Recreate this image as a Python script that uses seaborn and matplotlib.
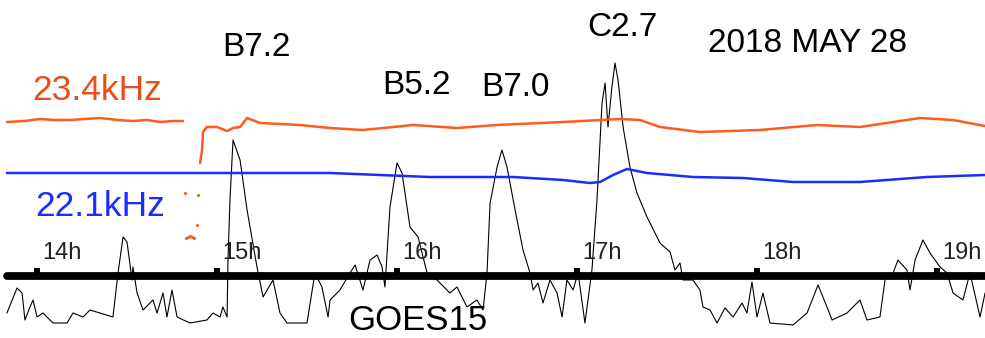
import numpy as np
import pandas as pd
import matplotlib
matplotlib.use("Agg")
import matplotlib.pyplot as plt
import seaborn as sns

# VLF amplitude traces (time in UT hours, level in arbitrary display units)
t_234a = [13.833, 13.930, 14.017, 14.100, 14.183, 14.267, 14.350, 14.450, 14.533, 14.610, 14.683, 14.750, 14.811]
v_234a = [216, 217, 219, 218, 218, 219, 220, 218, 217, 218, 216, 217, 217]
t_234dots = [14.822, 14.828, 14.839, 14.850, 14.861, 14.872, 14.889, 14.894]
v_234dots = [145, 100, 101, 102, 101, 100, 113, 143]
t_234b = [14.906, 14.917, 14.922, 14.944, 15.000, 15.056, 15.089, 15.128, 15.167, 15.239, 15.461,
          15.628, 15.811, 16.089, 16.333, 16.556, 16.922, 17.239, 17.350, 17.461, 17.683, 18.017,
          18.333, 18.572, 18.756, 18.906, 19.089, 19.267]
v_234b = [175, 188, 206, 211, 211, 207, 210, 211, 220, 215, 213, 210, 208, 213, 210, 213, 216, 219,
          218, 211, 206, 208, 213, 211, 216, 220, 218, 212]

t_221 = [13.833, 14.628, 15.628, 16.183, 16.644, 16.922, 17.072, 17.128, 17.200, 17.278, 17.389,
         17.644, 17.922, 18.200, 18.572, 18.944, 19.267]
v_221 = [165, 165, 165, 161, 161, 158, 155, 156, 163, 169, 165, 161, 160, 156, 156, 161, 163]

# GOES15 X-ray flux (display units)
t_goes = [13.833, 13.889, 13.917, 13.933, 13.961, 13.978, 14.000, 14.033, 14.089, 14.167, 14.200,
          14.256, 14.294, 14.350, 14.422, 14.450, 14.478, 14.500, 14.528, 14.533, 14.556, 14.589,
          14.644, 14.667, 14.700, 14.722, 14.750, 14.778, 14.850, 14.944, 14.978, 15.017, 15.033,
          15.056, 15.061, 15.072, 15.089, 15.128, 15.167, 15.222, 15.256, 15.311, 15.350, 15.389,
          15.500, 15.544, 15.583, 15.617, 15.628, 15.683, 15.739, 15.767, 15.811, 15.850, 15.889,
          15.917, 15.933, 15.961, 16.000, 16.028, 16.072, 16.117, 16.167, 16.222, 16.294, 16.333,
          16.389, 16.444, 16.478, 16.500, 16.517, 16.556, 16.583, 16.611, 16.656, 16.700, 16.739,
          16.756, 16.783, 16.811, 16.850, 16.889, 16.917, 16.944, 16.978, 17.006, 17.044, 17.083,
          17.111, 17.139, 17.156, 17.172, 17.194, 17.211, 17.228, 17.256, 17.294, 17.333, 17.389,
          17.433, 17.461, 17.517, 17.544, 17.572, 17.589, 17.644, 17.683, 17.700, 17.739, 17.778,
          17.822, 17.867, 17.917, 17.944, 17.972, 18.000, 18.033, 18.072, 18.200, 18.278, 18.339,
          18.389, 18.417, 18.500, 18.572, 18.611, 18.683, 18.711, 18.756, 18.783, 18.833, 18.850,
          18.878, 18.922, 18.961, 19.017, 19.056, 19.089, 19.144, 19.183, 19.239, 19.267]
v_goes = [25, 50, 45, 18, 31, 38, 21, 25, 15, 15, 25,
          21, 28, 25, 21, 65, 101, 96, 58, 71, 45, 28,
          38, 25, 45, 21, 48, 21, 15, 18, 25, 21, 31,
          21, 78, 138, 198, 178, 128, 71, 41, 58, 25, 15,
          15, 65, 51, 21, 38, 48, 65, 73, 48, 78, 83,
          71, 51, 131, 175, 165, 111, 101, 65, 58, 45, 51,
          31, 38, 28, 65, 135, 171, 188, 171, 128, 88, 65,
          48, 55, 35, 58, 45, 21, 58, 48, 65, 15, 68,
          138, 235, 255, 211, 251, 275, 258, 211, 171, 145, 121,
          105, 95, 86, 68, 75, 58, 58, 48, 31, 28, 15,
          30, 21, 35, 25, 56, 21, 45, 15, 13, 25, 53,
          31, 18, 25, 38, 18, 21, 58, 65, 78, 68, 48,
          78, 98, 85, 71, 65, 45, 38, 65, 21, 45]

hours = [14, 15, 16, 17, 18, 19]
hour_labels = ["14h", "15h", "16h", "17h", "18h", "19h"]
axis_level = 62

flares = ["B7.2", "B5.2", "B7.0", "C2.7"]
flare_t = [15.217, 16.106, 16.656, 17.250]
flare_v = [290, 252, 250, 310]

orange = "#ff5a1f"
blue = "#1a2cff"

sns.set_style("white")
plt.rcParams['font.family'] = ['Liberation Sans', 'DejaVu Sans']
plt.rcParams['text.color'] = 'black'

fig = plt.figure(figsize=(9.85, 3.38), dpi=100)
ax = fig.add_axes([0, 0, 1, 1])
t0 = 13.7944
ax.set_xlim(t0, t0 + 985 / 180)
ax.set_ylim(0, 338)
ax.set_axis_off()

# time axis bar with hour marks
sns.lineplot(x=[t_goes[0], t_goes[-1]], y=[axis_level, axis_level], ax=ax, color="black",
             linewidth=5.6, estimator=None, sort=False)
sns.scatterplot(x=hours, y=[axis_level + 5] * len(hours), ax=ax, color="black", marker="s",
                s=22, linewidth=0)
for h, lab in zip(hours, hour_labels):
    ax.text(h + 0.03, axis_level + 23, lab, fontsize=17, ha="left", va="center", color="#222222")

# GOES trace
sns.lineplot(x=t_goes, y=v_goes, ax=ax, color="black", linewidth=0.8, estimator=None, sort=False)

# VLF traces
sns.lineplot(x=t_234a, y=v_234a, ax=ax, color=orange, linewidth=1.8, estimator=None, sort=False)
sns.lineplot(x=t_234b, y=v_234b, ax=ax, color=orange, linewidth=1.8, estimator=None, sort=False)
sns.scatterplot(x=t_234dots, y=v_234dots, ax=ax, color=orange, s=5, linewidth=0)
sns.lineplot(x=t_221, y=v_221, ax=ax, color=blue, linewidth=1.8, estimator=None, sort=False)

ax.text(13.972, 248, "23.4kHz", fontsize=25.5, color="#e5501a", ha="left", va="center")
ax.text(13.989, 131, "22.1kHz", fontsize=25.5, color=blue, ha="left", va="center")

for lab, t, v in zip(flares, flare_t, flare_v):
    ax.text(t, v, lab, fontsize=24, ha="center", va="center", color="black")
ax.text(18.278, 294, "2018 MAY 28", fontsize=24, ha="center", va="center", color="black")
ax.text(16.114, 1, "GOES15", fontsize=25, ha="center", va="bottom", color="black")

fig.savefig("out.png", dpi=100)
